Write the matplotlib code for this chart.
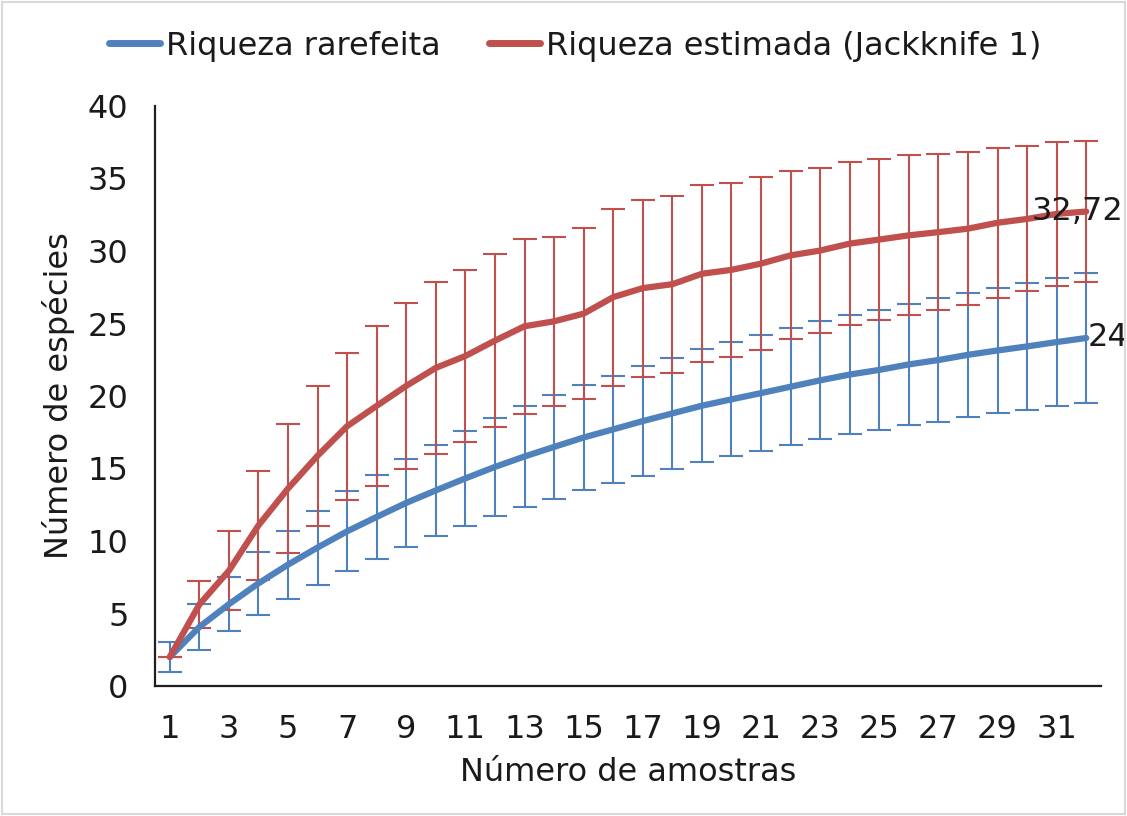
import matplotlib
matplotlib.use("Agg")
import matplotlib.pyplot as plt
from matplotlib.patches import Rectangle

plt.rcParams['font.family'] = ['DejaVu Sans']

amostras = list(range(1, 33))
rarefeita = [2.0, 4.07, 5.64, 7.08, 8.37, 9.55, 10.67, 11.66, 12.63, 13.49, 14.32,
             15.11, 15.83, 16.49, 17.14, 17.70, 18.27, 18.80, 19.33, 19.77, 20.20,
             20.64, 21.08, 21.48, 21.80, 22.18, 22.48, 22.84, 23.14, 23.42, 23.72, 24.0]
rarefeita_err = [1.06, 1.57, 1.88, 2.16, 2.35, 2.55, 2.77, 2.90, 3.03, 3.16, 3.28,
                 3.39, 3.47, 3.56, 3.64, 3.68, 3.77, 3.84, 3.89, 3.93, 3.98,
                 4.02, 4.06, 4.12, 4.15, 4.16, 4.25, 4.29, 4.29, 4.38, 4.42, 4.5]
estimada = [2.0, 5.62, 7.95, 11.08, 13.62, 15.88, 17.92, 19.32, 20.70, 21.94, 22.76,
            23.82, 24.81, 25.15, 25.68, 26.82, 27.44, 27.71, 28.43, 28.70, 29.13,
            29.70, 30.03, 30.51, 30.79, 31.08, 31.30, 31.54, 31.95, 32.21, 32.56, 32.72]
estimada_err = [0.0, 1.59, 2.72, 3.78, 4.43, 4.82, 5.08, 5.54, 5.70, 5.93, 5.91,
                5.94, 6.02, 5.82, 5.90, 6.10, 6.10, 6.10, 6.10, 6.02, 5.99,
                5.80, 5.71, 5.63, 5.54, 5.52, 5.38, 5.27, 5.18, 5.00, 4.95, 4.87]
xticks = list(range(1, 33, 2))
yticks = list(range(0, 41, 5))

blue = '#4F81BD'
red = '#C0504D'
txt = '#1a1a1a'
fs = 23

fig = plt.figure(figsize=(11.27, 8.16), dpi=100)
ax = fig.add_axes([155/1127, 130/816, 946/1127, 580/816])

ax.errorbar(amostras, rarefeita, yerr=rarefeita_err, fmt='none', ecolor=blue,
            elinewidth=1.5, capsize=8.5, capthick=1.5, zorder=2)
ax.errorbar(amostras, estimada, yerr=estimada_err, fmt='none', ecolor=red,
            elinewidth=1.5, capsize=8.5, capthick=1.5, zorder=2)
ax.plot(amostras, rarefeita, color=blue, lw=4.5, label='Riqueza rarefeita',
        solid_capstyle='round', zorder=3)
ax.plot(amostras, estimada, color=red, lw=4.5, label='Riqueza estimada (Jackknife 1)',
        solid_capstyle='round', zorder=3)

ax.annotate('32,72', xy=(amostras[-1], estimada[-1]), xytext=(37, 0),
            textcoords='offset pixels', ha='right', va='center', fontsize=fs,
            color=txt, zorder=5, annotation_clip=False)
ax.annotate('24', xy=(amostras[-1], rarefeita[-1]), xytext=(1, 0),
            textcoords='offset pixels', ha='left', va='center', fontsize=fs,
            color=txt, zorder=5, annotation_clip=False)

ax.set_xlim(0.5, 32.5)
ax.set_ylim(0, 40)
ax.set_xticks(xticks)
ax.set_yticks(yticks)
ax.tick_params(axis='both', length=0, labelsize=fs, colors=txt)
ax.tick_params(axis='y', pad=19)
ax.tick_params(axis='x', pad=20)
for s in ['top', 'right']:
    ax.spines[s].set_visible(False)
for s in ['left', 'bottom']:
    ax.spines[s].set_color('#1f1f1f')
    ax.spines[s].set_linewidth(1.6)

ax.set_xlabel('Número de amostras', fontsize=fs, color=txt, labelpad=9)
ax.set_ylabel('Número de espécies', fontsize=fs, color=txt, labelpad=9)

leg = fig.legend(loc='center', bbox_to_anchor=(575/1127, 1 - 46/816), ncol=2,
                 frameon=False, fontsize=fs, handlelength=1.6, handletextpad=0.2,
                 columnspacing=1.5)
for line in leg.get_lines():
    line.set_linewidth(5)
for t in leg.get_texts():
    t.set_color(txt)

fig.patches.append(Rectangle((0.002, 0.002), 0.996, 0.996, transform=fig.transFigure,
                             fill=False, edgecolor='#D9D9D9', lw=1.5))

fig.savefig('out.png', dpi=100)
